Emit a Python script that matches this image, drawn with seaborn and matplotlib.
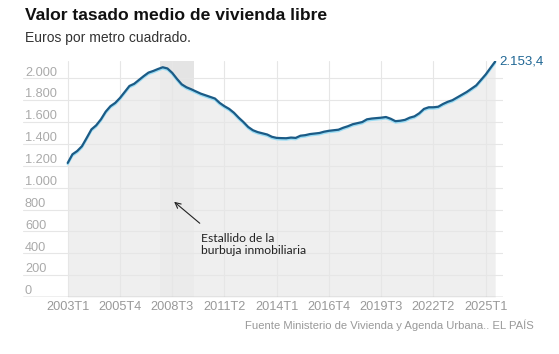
import matplotlib
matplotlib.use("Agg")
import matplotlib.pyplot as plt
import matplotlib.patheffects as pe
import seaborn as sns
import pandas as pd

# Valor tasado medio (euros/m2), trimestral 2003T1 - 2025T3
valores = [
    1226, 1305, 1335, 1379, 1455, 1533, 1570, 1625, 1695, 1745,
    1775, 1820, 1875, 1930, 1950, 1985, 2020, 2052, 2067, 2085,
    2101, 2090, 2050, 1995, 1945, 1918, 1900, 1880, 1860, 1845,
    1830, 1815, 1775, 1745, 1720, 1685, 1640, 1600, 1555, 1525,
    1508, 1497, 1486, 1465, 1455, 1453, 1452, 1458, 1455, 1475,
    1480, 1490, 1495, 1500, 1512, 1520, 1525, 1530, 1548, 1562,
    1580, 1590, 1600, 1625, 1632, 1636, 1640, 1646, 1630, 1608,
    1612, 1620, 1640, 1652, 1680, 1720, 1735, 1735, 1740, 1765,
    1785, 1800, 1825, 1850, 1875, 1905, 1935, 1985, 2035, 2095,
    2153.4,
]
tick_labels = ["2003T1", "2005T4", "2008T3", "2011T2", "2014T1",
               "2016T4", "2019T3", "2022T2", "2025T1"]
y_ticks = [0, 200, 400, 600, 800, 1000, 1200, 1400, 1600, 1800, 2000]
y_labels = ["0", "200", "400", "600", "800", "1.000", "1.200", "1.400",
            "1.600", "1.800", "2.000"]
burbuja = (19.5, 26.5)  # trimestres sombreados

df = pd.DataFrame({"t": range(len(valores)), "valor": valores})

sns.set_style("white")
plt.rcParams["font.family"] = ["Liberation Sans", "DejaVu Sans"]

fig = plt.figure(figsize=(5.59, 3.54), dpi=100)
ax = fig.add_axes([23 / 559, 57 / 354, 480 / 559, 236.2 / 354])

x_min, x_max = -9.41, 91.64
ax.set_xlim(x_min, x_max)
ax.set_ylim(0, 2160)

# Grid
for v in y_ticks[1:]:
    ax.axhline(v, color="#e6e6e6", lw=0.8, zorder=2)
tick_pos = [i * 11 for i in range(len(tick_labels))]
for p in tick_pos:
    ax.axvline(p, color="#e6e6e6", lw=0.8, zorder=2)

# Shaded band and area
ax.axvspan(*burbuja, color="#e4e4e4", lw=0, zorder=0)
ax.fill_between(df["t"], df["valor"], color="#ededed", alpha=0.85, lw=0, zorder=1)

# Line
sns.lineplot(data=df, x="t", y="valor", ax=ax, color="#1b5b86", lw=1.6, zorder=4,
             path_effects=[pe.SimpleLineShadow(offset=(0, -1.0), shadow_color="#9adcf4", alpha=1),
                           pe.Normal()])

ax.axhline(0, color="#b0b0b0", lw=1.0, zorder=5)

# Y labels on top of gridlines
for v, lab in zip(y_ticks, y_labels):
    ax.text(-8.99, v + 25, lab, ha="left", va="baseline", fontsize=9.2, color="#aaaaaa")

ax.set_xticks(tick_pos)
ax.set_xticklabels(tick_labels, fontsize=9.2, color="#999999")
ax.tick_params(axis="x", length=0, pad=3)
ax.set_yticks([])
ax.set_xlabel("")
ax.set_ylabel("")
for s in ax.spines.values():
    s.set_visible(False)

# Final value
ax.text(len(valores) - 1 + 0.9, valores[-1], "2.153,4", ha="left", va="center",
        fontsize=9.5, color="#1f6694")

# Annotation
ax.annotate("", xy=(21.96, 887), xytext=(28.25, 658),
            arrowprops=dict(arrowstyle="->", color="#222222", lw=0.8))
ax.text(28.06, 585, "Estallido de la\nburbuja inmobiliaria", ha="left", va="top",
        fontsize=8.7, color="#222222", family=["Lato", "DejaVu Sans"], linespacing=1.15)

# Titles and source
fig.text(25 / 559, 1 - 16 / 354, "Valor tasado medio de vivienda libre", ha="left",
         va="center", fontsize=12.6, fontweight="bold", color="#111111")
fig.text(25 / 559, 1 - 38 / 354, "Euros por metro cuadrado.", ha="left", va="center",
         fontsize=10, color="#333333")
fig.text(534 / 559, 1 - 325 / 354, "Fuente Ministerio de Vivienda y Agenda Urbana.. EL PAÍS",
         ha="right", va="center", fontsize=8.1, color="#999999")

fig.savefig("out.png", dpi=100)
